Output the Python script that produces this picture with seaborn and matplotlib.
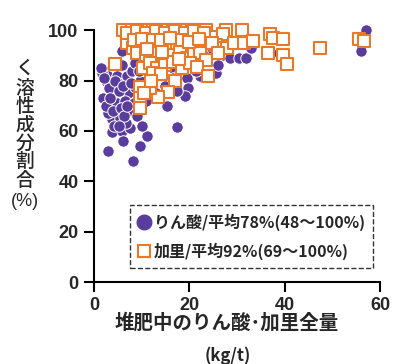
import matplotlib
matplotlib.use("Agg")
import matplotlib.pyplot as plt
from matplotlib.lines import Line2D
import seaborn as sns
import pandas as pd

# りん酸 (purple circles): x = 堆肥中の全量 (kg/t), y = く溶性成分割合 (%)
p_x = [2.3, 2.9, 4.8, 6.9, 8.0, 8.6, 5.9, 5.0, 4.0, 7.2, 2.0, 4.8, 6.5, 7.2, 3.8, 5.5,
       3.8, 5.9, 7.6, 6.1, 2.9, 8.2, 9.7, 11.2, 17.5, 15.4, 9.7, 8.6, 10.3, 11.8, 12.4,
       13.9, 16.6, 14.3, 19.6, 20.8, 23.8, 23.0, 16.6, 14.5, 16.6, 18.0, 19.6, 19.8,
       19.0, 17.5, 22.3, 23.4, 25.5, 27.0, 28.6, 30.5, 31.8, 33.0, 38.7, 56.0, 57.0,
       3.0, 4.2, 6.8, 9.0, 11.0, 12.5, 10.5, 9.5, 15.0, 13.0, 18.5, 21.5, 20.0, 17.0,
       12.0, 3.5, 6.0, 10.0, 14.0, 22.0, 25.0, 26.0, 2.5, 8.5,
       1.8, 3.2, 4.5, 5.3, 6.2, 7.8, 2.6, 4.1, 5.6, 3.4, 6.4, 7.0, 1.5, 2.2, 5.2]
p_y = [84, 82, 82, 82, 84, 87, 91.7, 79, 75, 75, 73, 71, 72, 68, 64.7, 65,
       59.5, 60, 61, 56, 52, 48, 54, 58, 61.5, 70, 80, 77.5, 74, 77, 81,
       88, 91, 92, 91, 87, 91, 99, 85, 82, 81, 83, 81, 77,
       74, 76, 82, 88, 83, 90, 89, 89, 89, 93, 91, 91.7, 100,
       67, 62, 63, 66, 72, 86, 89, 84, 78, 75, 88, 84, 95, 94,
       92, 79, 86, 62, 84, 90, 92, 86, 80, 71,
       83, 77, 80, 76, 78, 79, 70, 68, 69, 73, 66, 70, 85, 81, 62]

# 加里 (orange squares)
k_x = [6.1, 8.0, 9.5, 10.5, 11.5, 12.5, 13.5, 14.5, 15.5, 16.5, 17.5, 18.5, 19.5, 20.5,
       21.5, 22.5, 23.5, 27.8, 31.0,
       7.5, 9.0, 10.5, 12.0, 13.5, 15.0, 16.5, 18.0, 19.5, 21.0, 22.5, 24.5, 27.0, 37.0,
       37.5, 39.6, 55.6, 56.6,
       6.9, 8.2, 10.0, 11.5, 13.0, 14.5, 16.0, 17.5, 19.0, 20.5, 22.0, 23.8, 25.5, 26.5,
       28.0, 29.3, 31.4, 33.3, 47.4,
       9.0, 11.0, 12.2, 13.5, 15.0, 16.5, 18.0, 19.5, 21.0, 22.3, 23.5, 36.4, 39.6,
       4.4, 10.3, 11.8, 13.3, 15.0, 16.5, 18.5, 20.2, 21.7, 24.0, 40.4, 12.5, 14.0,
       17.0, 15.6, 13.5, 11.8, 9.7, 9.7, 9.7, 10.5, 12.0,
       7.0, 9.0, 11.0, 13.0, 15.0, 17.0, 19.0, 21.0, 23.0, 8.5, 10.0, 12.5, 14.0,
       16.0, 18.5, 20.0, 22.0, 14.2, 17.8, 11.2, 24.8, 26.0]
k_y = [100, 100, 100, 100, 100, 100, 100, 100, 100, 100, 100, 100, 100, 100,
       100, 100, 100, 100, 100,
       98, 97, 98.5, 97.5, 98, 96.5, 98, 97, 98.5, 97, 98, 97.5, 98.4, 98.4,
       97, 96.4, 96.4, 95.6,
       95, 93, 94.5, 95.5, 93.5, 94, 95, 93, 94.5, 93.5, 95, 95, 94, 93,
       93, 94.8, 95, 95.6, 93,
       91, 90, 89, 91, 89.5, 90, 91.5, 89, 90.5, 91, 88, 91, 90,
       86.5, 85, 87, 85, 86, 87.5, 85, 87, 85.3, 82, 86.5, 83, 82.5,
       80, 75.4, 73.4, 77, 77.4, 73, 69, 75, 80,
       99, 99.5, 99, 99.5, 99, 99.5, 99, 99.5, 99, 96, 96.5, 96, 96,
       97, 96, 95.5, 96.5, 91.5, 88.5, 92.5, 95, 91]

legend_labels = ["りん酸/平均78%(48～100%)", "加里/平均92%(69～100%)"]
ylabel_chars = ["く", "溶", "性", "成", "分", "割", "合"]

purple = "#5a3c9c"
orange = "#e8782a"

sns.set_style("ticks")
plt.rcParams['font.family'] = ['Noto Sans CJK JP', 'DejaVu Sans']

fig = plt.figure(figsize=(4.01, 3.64), dpi=100)
ax = fig.add_axes([0.234, 0.225, 0.714, 0.692])

df_p = pd.DataFrame({'x': p_x, 'y': p_y})
df_k = pd.DataFrame({'x': k_x, 'y': k_y})

sns.scatterplot(data=df_p, x='x', y='y', ax=ax, color=purple, s=68,
                edgecolor='white', linewidth=0.7, marker='o', zorder=3)
sns.scatterplot(data=df_k, x='x', y='y', ax=ax, marker='s', s=66,
                facecolor='white', edgecolor=orange, linewidth=1.5, zorder=4)
for c in ax.collections:
    c.set_clip_on(False)

ax.set_xlim(0, 60)
ax.set_ylim(0, 100)
ax.set_xticks([0, 20, 40, 60])
ax.set_yticks([0, 20, 40, 60, 80, 100])
ax.set_xlabel('')
ax.set_ylabel('')
sns.despine(ax=ax)
for s in ['left', 'bottom']:
    ax.spines[s].set_linewidth(1.5)
    ax.spines[s].set_color('black')
ax.tick_params(direction='out', length=7, width=1.5, color='black', pad=4)
for lab in ax.get_xticklabels() + ax.get_yticklabels():
    lab.set_fontfamily('Liberation Sans')
    lab.set_fontweight('bold')
    lab.set_fontsize(13)

handles = [
    Line2D([], [], marker='o', linestyle='', color=purple, markersize=10.5),
    Line2D([], [], marker='s', linestyle='', markerfacecolor='white',
           markeredgecolor=orange, markeredgewidth=1.5, markersize=8.5),
]
leg = ax.legend(handles, legend_labels, loc='lower left',
                bbox_to_anchor=(0.126, 0.056), frameon=True, fancybox=False,
                handlelength=0.8, handletextpad=0.2, borderpad=0.5,
                labelspacing=0.75, borderaxespad=0,
                prop={'family': ['Noto Sans CJK JP', 'DejaVu Sans'],
                      'weight': 'bold', 'size': 11.5})
frame = leg.get_frame()
frame.set_edgecolor('black')
frame.set_linestyle('--')
frame.set_linewidth(1.0)

# stacked vertical y label
centers = [68.5, 88.5, 106.5, 125, 143.5, 161, 180]
for ch, cy in zip(ylabel_chars, centers):
    fig.text(25 / 401, 1 - cy / 364, ch, ha='center', va='center', fontsize=13.5,
             fontweight='medium')
fig.text(25 / 401, 1 - 201.5 / 364, "(%)", ha='center', va='center', fontsize=13,
         family=['Liberation Sans'])

fig.text(227 / 401, 1 - 323 / 364, "堆肥中のりん酸･加里全量", ha='center', va='center',
         fontsize=14, fontweight='bold')
fig.text(228 / 401, 1 - 356 / 364, "(kg/t)", ha='center', va='center',
         fontsize=12, fontweight='bold')

fig.savefig('out.png', dpi=100)
